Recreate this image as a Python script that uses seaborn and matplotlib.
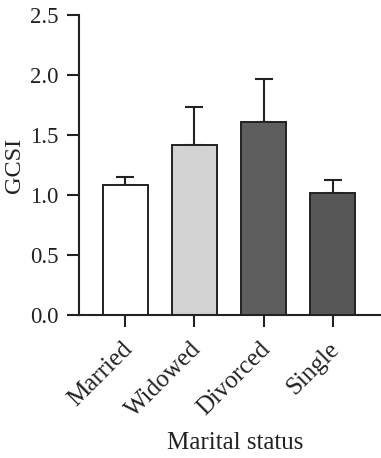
import numpy as np
import pandas as pd
import seaborn as sns
import matplotlib
matplotlib.use('Agg')
import matplotlib.pyplot as plt
import matplotlib.transforms as mtransforms

# Data
status = ['Married', 'Widowed', 'Divorced', 'Single']
gcsi_mean = [1.086, 1.417, 1.608, 1.014]
gcsi_err = [0.064, 0.316, 0.359, 0.111]
bar_colors = ['#ffffff', '#d2d2d2', '#5e5e5e', '#575757']

df = pd.DataFrame({'status': status, 'GCSI': gcsi_mean})

sns.set_theme(style='ticks')
plt.rcParams['font.family'] = ['Liberation Serif', 'DejaVu Serif']

fig, ax = plt.subplots(figsize=(3.81, 4.58), dpi=100)
fig.subplots_adjust(left=0.207, right=0.997, top=0.967, bottom=0.312)

sns.barplot(data=df, x='status', y='GCSI', hue='status', palette=bar_colors,
            legend=False, width=0.65, edgecolor='#222222', linewidth=1.4,
            errorbar=None, ax=ax, zorder=2)

# Upper error bars only
x = np.arange(len(status))
ax.errorbar(x, gcsi_mean, yerr=[np.zeros(len(x)), gcsi_err], fmt='none',
            ecolor='#222222', elinewidth=1.5, capsize=6.5, capthick=1.5, zorder=1)

ax.set_xlim(-0.67, 3.68)
ax.set_ylim(0, 2.5)
ax.set_yticks([0.0, 0.5, 1.0, 1.5, 2.0, 2.5])
ax.set_yticklabels(['0.0', '0.5', '1.0', '1.5', '2.0', '2.5'])

ax.set_xticks(x)
ax.set_xticklabels(status, rotation=45, ha='right', rotation_mode='anchor')

ax.tick_params(axis='both', length=8.6, width=1.5, color='#222222',
               labelcolor='#222222')
ax.tick_params(axis='y', pad=6, labelsize=16.5)
ax.tick_params(axis='x', pad=3, labelsize=18)
for side in ['left', 'bottom']:
    ax.spines[side].set_linewidth(1.5)
    ax.spines[side].set_color('#222222')
sns.despine(ax=ax)

# nudge rotated labels a little down-left
shift = mtransforms.ScaledTranslation(-3 / 72, -5 / 72, fig.dpi_scale_trans)
for lbl in ax.get_xticklabels():
    lbl.set_transform(lbl.get_transform() + shift)

ax.set_xlabel('Marital status', fontsize=18, color='#222222')
ax.xaxis.set_label_coords(0.52, -0.39)
ax.set_ylabel('GCSI', fontsize=17.5, color='#222222', labelpad=4)

plt.savefig('out.png', dpi=100)
